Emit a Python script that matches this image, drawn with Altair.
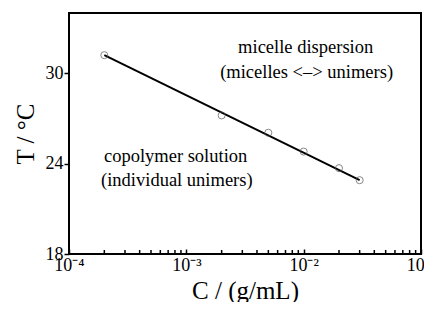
import altair as alt
import pandas as pd

# data points
conc = [2e-4, 2e-3, 5e-3, 1e-2, 2e-2, 3e-2]
temp = [31.2, 27.2, 26.05, 24.8, 23.7, 22.9]

# fitted line end points
line_x = [2e-4, 3e-2]
line_y = [31.2, 22.9]

major_ticks = [1e-4, 1e-3, 1e-2, 1e-1]
minor_ticks = [m * 10 ** e for e in (-4, -3, -2) for m in range(2, 10)]
y_ticks = [18, 24, 30]

ann_text = ["micelle dispersion", "(micelles <–> unimers)",
            "copolymer solution", "(individual unimers)"]
ann_x = [1.04e-2, 1.06e-2, 8.1e-4, 8.3e-4]
ann_y = [31.72, 30.11, 24.48, 22.9]

FONT = "Liberation Serif"

pts = pd.DataFrame({"C": conc, "T": temp})
fit = pd.DataFrame({"C": line_x, "T": line_y})
ann = pd.DataFrame({"C": ann_x, "T": ann_y, "txt": ann_text})
minor = pd.DataFrame({"C": minor_ticks})

xscale = alt.Scale(type="log", domain=[1e-4, 1e-1], nice=False)
yscale = alt.Scale(domain=[18, 34], nice=False, zero=False)

label_expr = ("datum.value >= 0.09 ? '10⁻¹' : datum.value >= 0.009 ? '10⁻²' : "
              "datum.value >= 0.0009 ? '10⁻³' : '10⁻⁴'")

x_major = alt.Axis(values=major_ticks, orient="bottom", offset=-5, tickSize=5,
                   tickWidth=1.5, tickColor="black", domain=False, grid=False,
                   labelExpr=label_expr, labelFont=FONT, labelFontSize=18,
                   labelColor="black", labelPadding=2, labelFlush=False,
                   title="C / (g/mL)", titleFont=FONT, titleFontSize=25,
                   titleFontWeight="normal", titleColor="black", titlePadding=4)

y_axis = alt.Axis(values=y_ticks, tickSize=5, tickWidth=1.5, tickColor="black",
                  domain=False, grid=False, labelFont=FONT, labelFontSize=18,
                  labelColor="black", labelPadding=1,
                  title="T / °C", titleFont=FONT, titleFontSize=25,
                  titleFontWeight="normal", titleColor="black", titlePadding=7)

line = alt.Chart(fit).mark_line(color="black", strokeWidth=2).encode(
    x=alt.X("C:Q", scale=xscale, axis=x_major),
    y=alt.Y("T:Q", scale=yscale, axis=y_axis),
)

minor_rules = alt.Chart(minor).mark_rule(color="black", strokeWidth=1.5).encode(
    x=alt.X("C:Q", scale=xscale),
    y=alt.value(241),
    y2=alt.value(237),
)

points = alt.Chart(pts).mark_point(shape="circle", size=50, filled=False,
                                   color="#555555", strokeWidth=1).encode(
    x=alt.X("C:Q", scale=xscale),
    y=alt.Y("T:Q", scale=yscale),
)

text = alt.Chart(ann).mark_text(font=FONT, fontSize=18.5, color="black",
                                align="center", baseline="middle").encode(
    x=alt.X("C:Q", scale=xscale),
    y=alt.Y("T:Q", scale=yscale),
    text="txt:N",
)

chart = alt.layer(line, minor_rules, points, text).properties(
    width=352, height=241,
    autosize=alt.AutoSizeParams(type="none"),
    padding={"left": 61, "top": 5, "right": 3, "bottom": 48},
    background="white",
).configure_view(stroke="black", strokeWidth=2)

chart.save("out.html", embed_options={"renderer": "svg", "actions": False})
